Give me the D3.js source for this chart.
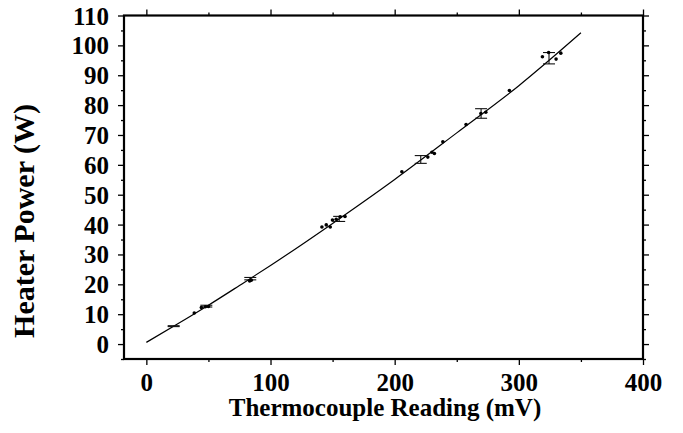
<!DOCTYPE html>
<html>
<head>
<meta charset="utf-8">
<script src="https://cdn.jsdelivr.net/npm/d3@7"></script>
<style>
  html, body { margin: 0; padding: 0; background: #fff; }
  svg { display: block; }
  text { font-family: "Liberation Serif", "Times New Roman", serif; font-weight: bold; fill: #000; }
</style>
</head>
<body>
<svg id="chart" width="683" height="433"></svg>
<script>
// ---- data ----
const pointX = [38.6, 44.3, 47.5, 50.0, 83.2, 84.5, 141.4, 144.9, 148.1, 149.9, 152.9, 156.1, 160.0,
                205.8, 226.7, 230.0, 232.0, 238.8, 257.5, 269.4, 273.4, 292.4, 319.0, 324.0, 330.0, 333.8];
const pointY = [10.4, 12.2, 12.5, 12.6, 21.1, 21.4, 39.2, 39.9, 39.2, 41.5, 41.8, 42.6, 42.7,
                57.7, 62.6, 64.2, 63.8, 67.7, 73.5, 77.2, 77.6, 84.9, 96.2, 97.6, 95.4, 97.4];

const barX = [22.0, 48.3, 83.7, 155.3, 221.0, 269.6, 324.3];
const barY = [6.0, 12.7, 21.9, 41.9, 61.8, 77.2, 95.7];
const barErr = [0.15, 0.3, 0.4, 0.85, 1.3, 1.6, 1.9];

const fitX = [0, 25, 50, 75, 100, 150, 200, 250, 300, 350];
const fitY = [0.57, 6.7, 13.0, 19.6, 26.3, 40.4, 55.1, 70.7, 86.5, 104.2];

const xTicks = [0, 100, 200, 300, 400];
const yTicks = [0, 10, 20, 30, 40, 50, 60, 70, 80, 90, 100, 110];
const xMinor = [0, 50, 100, 150, 200, 250, 300, 350, 400];
const yMinor = [-5, 0, 5, 10, 15, 20, 25, 30, 35, 40, 45, 50, 55, 60, 65, 70, 75, 80, 85, 90, 95, 100, 105, 110];

const xTitle = "Thermocouple Reading (mV)";
const yTitle = "Heater Power (W)";

// ---- layout ----
const L = 124, R = 643, T = 15.5, B = 359;
const svg = d3.select("#chart");
const x = d3.scaleLinear().domain([-18, 400]).range([L, R]);
const y = d3.scaleLinear().domain([-5, 110]).range([B, T]);

const fmt = d3.format("d");
const gB = svg.append("g").attr("transform", `translate(0,${B})`)
  .call(d3.axisBottom(x).tickValues(xTicks).tickSize(6).tickPadding(8).tickFormat(fmt));
const gBm = svg.append("g").attr("transform", `translate(0,${B})`)
  .call(d3.axisBottom(x).tickValues(xMinor.filter(v => xTicks.indexOf(v) < 0)).tickSize(3).tickFormat(""));
const gT = svg.append("g").attr("transform", `translate(0,${T})`)
  .call(d3.axisTop(x).tickValues(xTicks).tickSize(6).tickFormat(""));
const gTm = svg.append("g").attr("transform", `translate(0,${T})`)
  .call(d3.axisTop(x).tickValues(xMinor.filter(v => xTicks.indexOf(v) < 0)).tickSize(3).tickFormat(""));
const gL = svg.append("g").attr("transform", `translate(${L},0)`)
  .call(d3.axisLeft(y).tickValues(yTicks).tickSize(6).tickPadding(9).tickFormat(fmt));
const gLm = svg.append("g").attr("transform", `translate(${L},0)`)
  .call(d3.axisLeft(y).tickValues(yMinor.filter(v => yTicks.indexOf(v) < 0)).tickSize(3).tickFormat(""));
const gR = svg.append("g").attr("transform", `translate(${R},0)`)
  .call(d3.axisRight(y).tickValues(yTicks).tickSize(6).tickFormat(""));
const gRm = svg.append("g").attr("transform", `translate(${R},0)`)
  .call(d3.axisRight(y).tickValues(yMinor.filter(v => yTicks.indexOf(v) < 0)).tickSize(3).tickFormat(""));

[gB, gBm, gT, gTm, gL, gLm, gR, gRm].forEach(g => {
  g.select(".domain").remove();
  g.selectAll(".tick line").attr("stroke", "#000").attr("stroke-width", 1.3);
  g.selectAll(".tick text").style("font-family", '"Liberation Serif", serif')
    .style("font-weight", "bold").style("font-size", "25px").attr("fill", "#000");
});
gL.selectAll(".tick text").attr("dy", "0.34em");
gB.selectAll(".tick text").attr("dy", "0.72em");

// frame
svg.append("rect").attr("x", L).attr("y", T).attr("width", R - L).attr("height", B - T)
  .attr("fill", "none").attr("stroke", "#000").attr("stroke-width", 2.2);

// fit curve
const line = d3.line().x((d, i) => x(fitX[i])).y((d, i) => y(fitY[i])).curve(d3.curveMonotoneX);
svg.append("path").datum(fitX).attr("d", line).attr("fill", "none")
  .attr("stroke", "#000").attr("stroke-width", 1.2);

// error bars
const capW = 6;
const eb = svg.append("g").attr("stroke", "#111").attr("stroke-width", 1.1).attr("fill", "none");
barX.forEach((bx, i) => {
  const cx = x(bx), y1 = y(barY[i] + barErr[i]), y2 = y(barY[i] - barErr[i]);
  eb.append("line").attr("x1", cx).attr("x2", cx).attr("y1", y1).attr("y2", y2);
  eb.append("line").attr("x1", cx - capW).attr("x2", cx + capW).attr("y1", y1).attr("y2", y1);
  eb.append("line").attr("x1", cx - capW).attr("x2", cx + capW).attr("y1", y2).attr("y2", y2);
});

// points
svg.append("g").selectAll("circle").data(pointX).join("circle")
  .attr("cx", (d) => x(d)).attr("cy", (d, i) => y(pointY[i])).attr("r", 1.8).attr("fill", "#000");

// titles
svg.append("text").attr("x", 385).attr("y", 416).attr("text-anchor", "middle")
  .style("font-size", "25px").text(xTitle);
svg.append("text").attr("transform", "translate(34,221) rotate(-90)").attr("text-anchor", "middle")
  .style("font-size", "30px").text(yTitle);
</script>
</body>
</html>
